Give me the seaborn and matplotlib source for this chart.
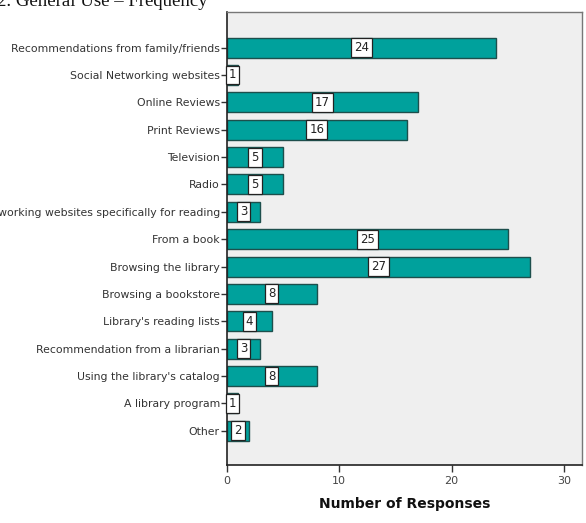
import pandas as pd
import matplotlib
matplotlib.use("Agg")
import matplotlib.pyplot as plt
import seaborn as sns

categories = [
    "Recommendations from family/friends",
    "Social Networking websites",
    "Online Reviews",
    "Print Reviews",
    "Television",
    "Radio",
    "Social Networking websites specifically for reading",
    "From a book",
    "Browsing the library",
    "Browsing a bookstore",
    "Library's reading lists",
    "Recommendation from a librarian",
    "Using the library's catalog",
    "A library program",
    "Other",
]
responses = [24, 1, 17, 16, 5, 5, 3, 25, 27, 8, 4, 3, 8, 1, 2]
x_ticks = [0, 10, 20, 30]

data = pd.DataFrame({"source": categories, "count": responses})

sns.set_style("white")
plt.rcParams["font.family"] = ["DejaVu Sans"]

fig = plt.figure(figsize=(5.86, 5.23), dpi=100)
ax = fig.add_axes([0.387, 0.111, 0.606, 0.866])
ax.set_facecolor("#efefef")

sns.barplot(data=data, x="count", y="source", orient="h", color="#00a19c",
            saturation=1, edgecolor="#1d4f4c", linewidth=1.0, width=0.73, ax=ax)

ax.bar_label(ax.containers[0], label_type="center", fontsize=8.5, color="#222222",
             bbox=dict(boxstyle="square,pad=0.25", facecolor="white",
                       edgecolor="#222222", linewidth=0.9))

ax.set_xlim(0, 31.6)
ax.set_ylim(15.25, -1.3)
ax.set_xticks(x_ticks)
ax.set_xticklabels([str(t) for t in x_ticks], fontsize=8, color="#444444")
ax.tick_params(axis="y", labelsize=7.8, labelcolor="#333333", length=4,
               width=1, color="#333333", left=True, pad=1)
ax.tick_params(axis="x", length=5, width=1, color="#333333", bottom=True, pad=3)
ax.set_xlabel("Number of Responses", fontsize=10, fontweight="bold",
              color="#111111", labelpad=8)
ax.set_ylabel("")

for side in ["left", "bottom"]:
    ax.spines[side].set_color("#222222")
    ax.spines[side].set_linewidth(1.2)
for side in ["top", "right"]:
    ax.spines[side].set_color("#777777")
    ax.spines[side].set_linewidth(1.0)

# title is cropped at the top edge in the original screenshot
fig.text(-0.005, 1 - 6 / 523, "2. General Use \u2013 Frequency", fontsize=13.5,
         family="Liberation Serif", va="baseline", ha="left", color="#111111")

fig.savefig("out.png", dpi=100)
